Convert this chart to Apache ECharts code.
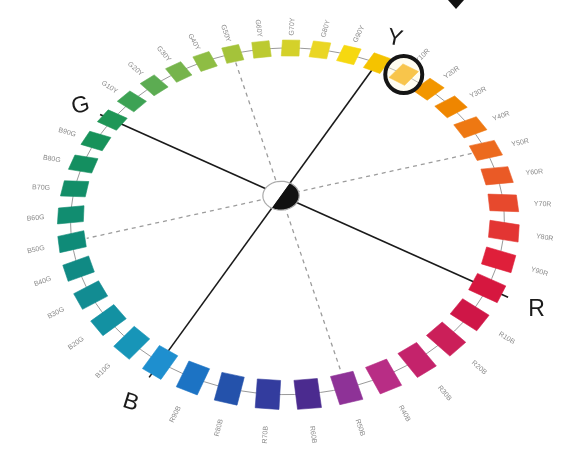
<!DOCTYPE html>
<html><head><meta charset="utf-8">
<script src="https://cdn.jsdelivr.net/npm/echarts@6/dist/echarts.min.js"></script>
<style>html,body{margin:0;padding:0;background:#fff}#c{width:562px;height:452px}</style>
</head><body><div id="c"></div>
<script>
// ---- data ----
const hueNames = ['Y','Y10R','Y20R','Y30R','Y40R','Y50R','Y60R','Y70R','Y80R','Y90R',
  'R','R10B','R20B','R30B','R40B','R50B','R60B','R70B','R80B','R90B',
  'B','B10G','B20G','B30G','B40G','B50G','B60G','B70G','B80G','B90G',
  'G','G10Y','G20Y','G30Y','G40Y','G50Y','G60Y','G70Y','G80Y','G90Y'];
const hueAngles = [0,9,18,27,36,45,54,63,72,81,90,99,108,117,126,135,144,153,162,171,
  180,189,198,207,216,225,234,243,252,261,270,279,288,297,306,315,324,333,342,351];
const hueColors = ['#F5C300','#F4A900','#F29600','#EF8600','#EE7812','#EC6A1E','#EA5A26','#E7492D','#E33533','#DF1F3A',
  '#D6173F','#CF1647','#CB1F59','#C4236B','#B82D85','#8E3297','#4B2B8F','#333C9E','#2452AB','#1C73C4',
  '#1E8FCF','#1795B8','#1391A2','#128C92','#108A84','#0F8B78','#118D70','#138E68','#148F60','#17925A',
  '#1F9656','#3DA254','#5CAC52','#76B44C','#8EBD44','#A4C33A','#BCCA30','#D4D12A','#EAD624','#F6D810'];
const primaryNames = ['Y','R','B','G'];
const primaryAngles = [0,90,180,270];
const solidAxes = [[180,0],[270,90]];     // B–Y, G–R
const dashedAxes = [[315,135],[45,225]];  // G50Y–R50B, Y50R–B50G
const highlightHue = ['Y10R'];
const highlightAngle = [9];

// ---- view / layout ----
const VIEW = {a:0.928,b:0.535,c:-0.4155,d:0.738,g:-0.1,h:0.1145};
const SQ = {rh:0.062, th:0.047};
const LABEL_R = 1.17, LETTER_R = 1.21;
function proj(r, t, deg){
  const th = deg*Math.PI/180, s = Math.sin(th), co = Math.cos(th);
  const u = r*s + t*co, v = r*co - t*s;
  const w = 1 + VIEW.g*u + VIEW.h*v;
  return [(VIEW.a*u + VIEW.b*v)/w, (VIEW.c*u + VIEW.d*v)/w];
}
function radialRot(api, deg){
  const p0 = api.coord(proj(1,0,deg)), p1 = api.coord(proj(1.2,0,deg));
  let ang = Math.atan2(-(p1[1]-p0[1]), p1[0]-p0[0]);
  if (ang > Math.PI/2) ang -= Math.PI; else if (ang < -Math.PI/2) ang += Math.PI;
  return ang;
}

const chart = echarts.init(document.getElementById('c'), null, {renderer:'canvas'});
chart.setOption({
  animation:false,
  backgroundColor:'#fff',
  grid:{left:0,right:0,top:0,bottom:0},
  xAxis:{type:'value',min:-1.405,max:1.405,show:false},
  yAxis:{type:'value',min:-1.2825,max:0.9775,show:false},
  graphic:[{type:'polygon',shape:{points:[[448,0],[464,0],[456,9]]},style:{fill:'#111'}}],
  series:[
    { // ring + axis lines
      type:'custom', silent:true, z:1,
      data:[[0,0]],
      renderItem:(params, api)=>{
        const ring = [];
        for (let a=0; a<=360; a+=3) ring.push(api.coord(proj(1,0,a)));
        const ch = [{type:'polyline',shape:{points:ring},style:{stroke:'#9a9a9a',lineWidth:1,fill:null}}];
        dashedAxes.forEach(([a1,a2])=>{
          const p=api.coord(proj(0.93,0,a1)), q=api.coord(proj(0.93,0,a2));
          ch.push({type:'line',shape:{x1:p[0],y1:p[1],x2:q[0],y2:q[1]},
            style:{stroke:'#9c9c9c',lineWidth:1.3,lineDash:[4,4]}});
        });
        solidAxes.forEach(([a1,a2])=>{
          const p=api.coord(proj(1.08,0,a1)), q=api.coord(proj(a2===0?1.0:1.09,0,a2));
          ch.push({type:'line',shape:{x1:p[0],y1:p[1],x2:q[0],y2:q[1]},style:{stroke:'#1a1a1a',lineWidth:1.6}});
        });
        return {type:'group',children:ch};
      }
    },
    { // hue squares + labels
      type:'custom', silent:true, z:3,
      data:hueAngles.map((a,i)=>[a,i]),
      renderItem:(params, api)=>{
        const deg = api.value(0), i = params.dataIndex;
        const pts = [[-1,-1],[1,-1],[1,1],[-1,1]].map(([sr,st])=>api.coord(proj(1+sr*SQ.rh, st*SQ.th, deg)));
        const ch = [{type:'polygon',shape:{points:pts},style:{fill:hueColors[i],stroke:hueColors[i],lineWidth:0.6,lineJoin:'round'}}];
        if (primaryNames.indexOf(hueNames[i]) < 0){
          const lp = api.coord(proj(LABEL_R,0,deg));
          ch.push({type:'text',x:lp[0],y:lp[1],rotation:radialRot(api,deg),
            style:{text:hueNames[i],fill:'#8a8a8a',fontSize:7,fontFamily:'Liberation Sans',align:'center',verticalAlign:'middle'}});
        }
        return {type:'group',children:ch};
      }
    },
    { // highlight ring
      type:'custom', silent:true, z:4,
      data:highlightAngle.map(a=>[a,0]),
      renderItem:(params, api)=>{
        const c = api.coord(proj(1,0,api.value(0)));
        return {type:'circle',shape:{cx:c[0],cy:c[1],r:18.5},style:{fill:'rgba(255,248,215,0.35)',stroke:'#151515',lineWidth:4}};
      }
    },
    { // centre marker
      type:'custom', silent:true, z:5,
      data:[[0,0]],
      renderItem:(params, api)=>{
        const black=[], white=[], full=[];
        for (let a=0; a<=180; a+=10) black.push(api.coord(proj(0.085,0,a)));
        for (let a=180; a<=360; a+=10) white.push(api.coord(proj(0.085,0,a)));
        for (let a=0; a<=360; a+=10) full.push(api.coord(proj(0.085,0,a)));
        return {type:'group',children:[
          {type:'polygon',shape:{points:white},style:{fill:'#fff'}},
          {type:'polygon',shape:{points:black},style:{fill:'#111'}},
          {type:'polyline',shape:{points:full},style:{stroke:'#aaa',lineWidth:1.2,fill:null}}
        ]};
      }
    },
    { // primary letters
      type:'custom', silent:true, z:6,
      data:primaryAngles.map((a,i)=>[a,i]),
      renderItem:(params, api)=>{
        const p = api.coord(proj(LETTER_R,0,api.value(0)));
        return {type:'text',x:p[0],y:p[1],rotation:[-0.2,0,-0.3,0.25][params.dataIndex],
          style:{text:primaryNames[params.dataIndex],fill:'#1a1a1a',fontSize:23,fontFamily:'Liberation Sans',align:'center',verticalAlign:'middle'}};
      }
    }
  ]
});
</script></body></html>
